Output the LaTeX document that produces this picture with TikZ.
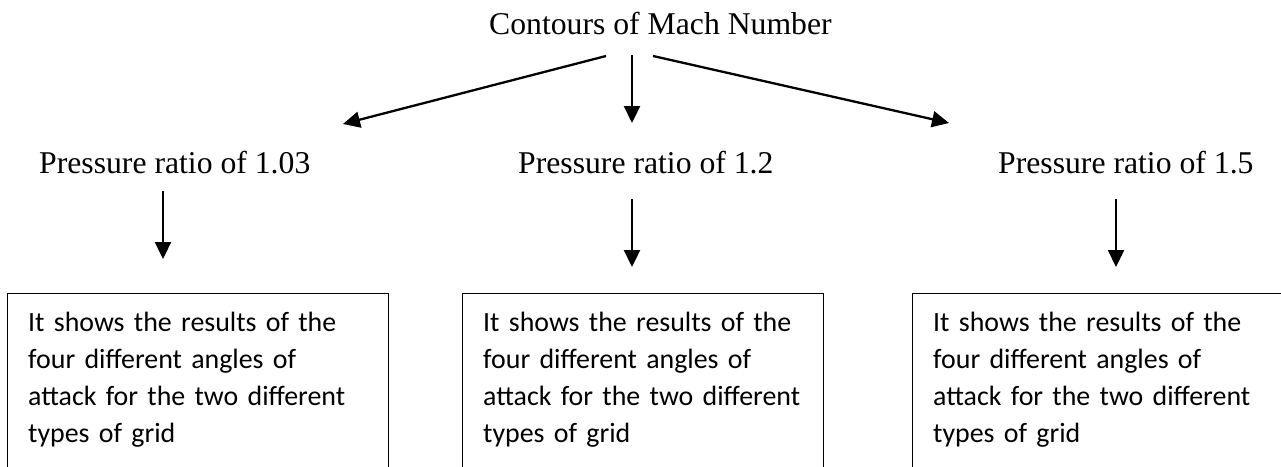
\documentclass[tikz,border=0pt]{standalone}
\usepackage{fontspec}
\setmainfont{Liberation Serif}
\newfontfamily\boxfont{Carlito}
\usetikzlibrary{arrows.meta}
\begin{document}
\begin{tikzpicture}[x=1pt,y=-1pt,
  title/.style={font=\fontsize{31.7pt}{38pt}\selectfont, inner sep=0pt, anchor=base west},
  frame/.style={draw, line width=1.4pt, minimum width=#1, minimum height=240pt, anchor=north west, inner sep=0pt},
  btext/.style={font=\boxfont\fontsize{27.9pt}{37pt}\selectfont, text width=350pt, align=left, inner sep=0pt, anchor=north west, xshift=21pt, yshift=-19pt},
  arr/.style={line width=2.3pt, -{Triangle[length=17pt,width=16pt]}}]
\useasboundingbox (0,0) rectangle (1281,466);
\clip (0,0) rectangle (1281,466);

% titles
\node[title] (top) at (489,34) {Contours of Mach Number};
\node[title] (p1) at (39,173) {Pressure ratio of 1.03};
\node[title] (p2) at (518,173) {Pressure ratio of 1.2};
\node[title] (p3) at (998,173) {Pressure ratio of 1.5};

% arrow end points
\coordinate (a1s) at (606,56);  \coordinate (a1e) at (343,124);
\coordinate (a2s) at (632,55);  \coordinate (a2e) at (632,123);
\coordinate (a3s) at (653,56);  \coordinate (a3e) at (949,123);
\coordinate (b1s) at (163,191); \coordinate (b1e) at (163,259);
\coordinate (b2s) at (632,199); \coordinate (b2e) at (632,267);
\coordinate (b3s) at (1116,199); \coordinate (b3e) at (1116,267);

\draw[arr] (a1s) -- (a1e);
\draw[arr] (a2s) -- (a2e);
\draw[arr] (a3s) -- (a3e);
\draw[arr] (b1s) -- (b1e);
\draw[arr] (b2s) -- (b2e);
\draw[arr] (b3s) -- (b3e);

% boxes
\node[frame=381pt] (box1) at (7,293) {};
\node[frame=361pt] (box2) at (462,293) {};
\node[frame=400pt] (box3) at (912,293) {};

\node[btext] (t1) at (box1.north west) {It shows the results of the\\ four different angles of\\ attack for the two different\\ types of grid};
\node[btext] (t2) at (box2.north west) {It shows the results of the\\ four different angles of\\ attack for the two different\\ types of grid};
\node[btext] (t3) at (box3.north west) {It shows the results of the\\ four different angles of\\ attack for the two different\\ types of grid};
\end{tikzpicture}
\end{document}
